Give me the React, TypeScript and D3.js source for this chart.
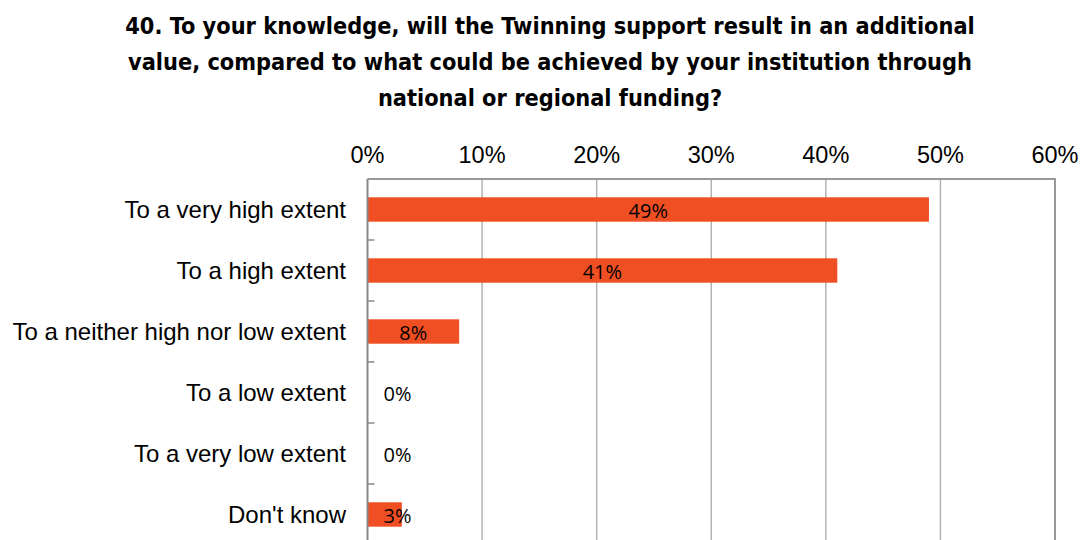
import { useRef, useEffect } from "react";
import * as d3 from "d3";

const titleLines = [
  "40. To your knowledge, will the Twinning support result in an additional",
  "value, compared to what could be achieved by your institution through",
  "national or regional funding?",
];
const categories = [
  "To a very high extent",
  "To a high extent",
  "To a neither high nor low extent",
  "To a low extent",
  "To a very low extent",
  "Don't know",
];
const values = [49, 41, 8, 0, 0, 3];
const ticks = [0, 10, 20, 30, 40, 50, 60];

const W = 1081;
const H = 540;
const PLOT = { left: 367.5, right: 1055, top: 179, bottom: 545 };
const BAR = "#f04f24";

export default function App() {
  const svgRef = useRef<SVGSVGElement>(null);

  useEffect(() => {
    if (!svgRef.current) return;
    const svg = d3.select(svgRef.current);
    svg.selectAll("*").remove();

    const x = d3.scaleLinear().domain([0, 60]).range([PLOT.left, PLOT.right]);
    const y = d3
      .scaleBand<string>()
      .domain(categories)
      .range([PLOT.top, PLOT.bottom])
      .paddingInner(0.6)
      .paddingOuter(0.3);
    const band = (PLOT.bottom - PLOT.top) / categories.length;

    // Title
    svg
      .append("g")
      .selectAll("text")
      .data(titleLines)
      .join("text")
      .attr("x", 550)
      .attr("y", (_, i) => 33.5 + i * 36.2)
      .attr("text-anchor", "middle")
      .attr("font-family", "'DejaVu Sans Condensed', 'DejaVu Sans', sans-serif")
      .attr("font-stretch", "condensed")
      .attr("font-weight", "bold")
      .attr("font-size", "23.3px")
      .attr("fill", "#000")
      .text((d) => d);

    // Gridlines
    svg
      .append("g")
      .selectAll("line")
      .data(ticks.slice(1, -1))
      .join("line")
      .attr("x1", (d) => x(d))
      .attr("x2", (d) => x(d))
      .attr("y1", PLOT.top)
      .attr("y2", PLOT.bottom)
      .attr("stroke", "#b3b3b3")
      .attr("stroke-width", 1.5);

    // Frame (top + right)
    svg
      .append("path")
      .attr("d", `M${PLOT.left},${PLOT.top}H${PLOT.right}V${PLOT.bottom}`)
      .attr("fill", "none")
      .attr("stroke", "#999")
      .attr("stroke-width", 2);

    // Top axis labels
    svg
      .append("g")
      .selectAll("text")
      .data(ticks)
      .join("text")
      .attr("x", (d) => x(d))
      .attr("y", 163)
      .attr("text-anchor", "middle")
      .attr("font-family", "'Liberation Sans', Arial, sans-serif")
      .attr("font-size", "23.5px")
      .attr("fill", "#000")
      .text((d) => `${d}%`);

    // Bars
    svg
      .append("g")
      .selectAll("rect")
      .data(values)
      .join("rect")
      .attr("x", x(0))
      .attr("y", (_, i) => y(categories[i])!)
      .attr("width", (d) => x(d) - x(0))
      .attr("height", y.bandwidth())
      .attr("fill", BAR);

    // Left axis + ticks at band boundaries
    svg
      .append("line")
      .attr("x1", PLOT.left)
      .attr("x2", PLOT.left)
      .attr("y1", PLOT.top)
      .attr("y2", PLOT.bottom)
      .attr("stroke", "#888")
      .attr("stroke-width", 2);
    svg
      .append("g")
      .selectAll("line")
      .data(d3.range(1, categories.length))
      .join("line")
      .attr("x1", PLOT.left)
      .attr("x2", PLOT.left + 7)
      .attr("y1", (i) => PLOT.top + i * band)
      .attr("y2", (i) => PLOT.top + i * band)
      .attr("stroke", "#888")
      .attr("stroke-width", 1.5);

    // Category labels
    svg
      .append("g")
      .selectAll("text")
      .data(categories)
      .join("text")
      .attr("x", 346)
      .attr("y", (d) => y(d)! + y.bandwidth() / 2)
      .attr("dy", "0.35em")
      .attr("text-anchor", "end")
      .attr("font-family", "'Liberation Sans', Arial, sans-serif")
      .attr("font-size", "24px")
      .attr("fill", "#000")
      .text((d) => d);

    // Value labels
    svg
      .append("g")
      .selectAll("text")
      .data(values)
      .join("text")
      .attr("x", (d) => Math.max((x(0) + x(d)) / 2, x(0) + 30))
      .attr("y", (_, i) => y(categories[i])! + y.bandwidth() / 2)
      .attr("dy", "0.42em")
      .attr("text-anchor", "middle")
      .attr("font-family", "'Open Sans', sans-serif")
      .attr("font-size", "20px")
      .attr("fill", "#000")
      .text((d) => `${d}%`);
  }, []);

  return (
    <svg
      ref={svgRef}
      width={W}
      height={H}
      viewBox={`0 0 ${W} ${H}`}
      style={{ position: "absolute", left: 0, top: 0, background: "#fff" }}
    />
  );
}
